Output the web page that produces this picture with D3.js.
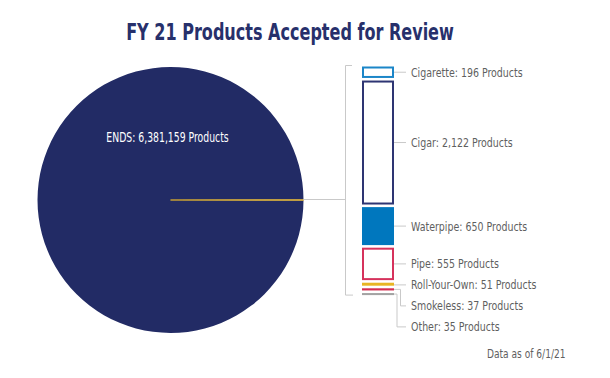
<!DOCTYPE html>
<html>
<head>
<meta charset="utf-8">
<script src="https://cdn.jsdelivr.net/npm/d3@7"></script>
<style>
  html, body { margin: 0; padding: 0; background: #ffffff; }
  svg { display: block; }
  text { font-family: "DejaVu Sans Condensed", "Liberation Sans Narrow", "Arial Narrow", sans-serif; }
</style>
</head>
<body>
<svg id="chart" width="610" height="378"></svg>
<script>
// ---- Data ----
const title = "FY 21 Products Accepted for Review";
const pieCategories = ["ENDS", "All Other Products"];
const pieValues = [6381159, 3646];
const barCategories = ["Cigarette", "Cigar", "Waterpipe", "Pipe", "Roll-Your-Own", "Smokeless", "Other"];
const barValues = [196, 2122, 650, 555, 51, 37, 35];
const footnote = "Data as of 6/1/21";

// ---- Styles ----
const navy = "#222b65";
const pieColors = [navy, "#e2b22c"];
const barStroke = ["#1b86c8", "#2e3573", null, "#d6325c", null, null, null];
const barFill = ["#ffffff", "#ffffff", "#0077be", "#ffffff", "#e8b523", "#d42c50", "#a3a3a3"];
const lineGray = "#c9c9c9";
const textGray = "#5f5f5f";

const svg = d3.select("#chart");
const fmt = d3.format(",");

// condense text horizontally to mimic a condensed typeface
function condense(sel, factor) {
  sel.each(function () {
    const w = this.getComputedTextLength();
    d3.select(this).attr("textLength", w * factor).attr("lengthAdjust", "spacingAndGlyphs");
  });
}

// Title
svg.append("text")
  .attr("x", 290).attr("y", 39.5)
  .attr("text-anchor", "middle")
  .attr("font-size", 23).attr("font-weight", "bold")
  .attr("fill", "#27306b")
  .text(title)
  .call(condense, 0.775);

// ---- Pie ----
const cx = 170.5, cy = 200, r = 133;
const total = d3.sum(pieValues);
const smallAngle = 2 * Math.PI * pieValues[1] / total;
const pie = d3.pie().sort(null)
  .startAngle(Math.PI / 2 + smallAngle / 2)
  .endAngle(Math.PI / 2 + smallAngle / 2 + 2 * Math.PI);
const arc = d3.arc().innerRadius(0).outerRadius(r);
const pieG = svg.append("g").attr("transform", `translate(${cx},${cy})`);
pieG.selectAll("path").data(pie(pieValues)).join("path")
  .attr("d", arc)
  .attr("fill", (d, i) => pieColors[i])
  .attr("stroke", (d, i) => i === 1 ? pieColors[1] : "none")
  .attr("stroke-width", (d, i) => i === 1 ? 0.8 : 0);

pieG.append("text")
  .attr("x", -3).attr("y", -58.3)
  .attr("text-anchor", "middle")
  .attr("font-size", 13.5)
  .attr("fill", "#ffffff")
  .text(`${pieCategories[0]}: ${fmt(pieValues[0])} Products`)
  .call(condense, 0.765);

// ---- Stacked bar ----
const barX = 362, barW = 32, barTop = 66.5, gap = 2.6;
const barTotal = d3.sum(barValues);
const h = d3.scaleLinear().domain([0, barTotal]).range([0, 213]);
const cum = d3.cumsum([0, ...barValues]);
const bars = barValues.map((v, i) => {
  const y0 = barTop + h(cum[i]) + i * gap;
  return { cat: barCategories[i], v, i, y0, y1: y0 + h(v) };
});

// connector lines
const bracketX = 345.5;
const lines = svg.append("g").attr("stroke", lineGray).attr("stroke-width", 1).attr("fill", "none");
lines.append("line").attr("x1", cx + r).attr("x2", bracketX).attr("y1", 199.5).attr("y2", 199.5);
lines.append("path")
  .attr("d", `M${bracketX + 6.5},${bars[0].y0 - 1} H${bracketX} V${bars[bars.length - 1].y1} H${bracketX + 7.5}`);

const barG = svg.append("g");
bars.forEach(b => {
  if (barStroke[b.i]) {
    barG.append("rect")
      .attr("x", barX + 1).attr("y", b.y0 + 1)
      .attr("width", barW - 2).attr("height", Math.max(0, b.y1 - b.y0 - 2))
      .attr("fill", barFill[b.i])
      .attr("stroke", barStroke[b.i]).attr("stroke-width", 2);
  } else {
    barG.append("rect")
      .attr("x", barX).attr("y", b.y0)
      .attr("width", barW).attr("height", b.y1 - b.y0)
      .attr("fill", barFill[b.i]);
  }
});

// labels
const labelX = 411, leaderEnd = 406, spacing = 21;
const elbowX = [null, null, null, null, null, 400.5, 397];
let prev = -Infinity;
bars.forEach(b => {
  const c = (b.y0 + b.y1) / 2;
  b.ly = Math.max(c, prev + spacing);
  b.c = c;
  prev = b.ly;
});
bars.forEach(b => {
  let d;
  if (Math.abs(b.ly - b.c) < 2) {
    d = `M${barX + barW},${b.ly} H${leaderEnd}`;
  } else {
    const ex = elbowX[b.i] || 398;
    d = `M${barX + barW},${b.c} H${ex} V${b.ly} H${leaderEnd}`;
  }
  lines.append("path").attr("d", d);
  svg.append("text")
    .attr("x", labelX).attr("y", b.ly).attr("dy", "0.36em")
    .attr("font-size", 12.5)
    .attr("fill", textGray)
    .text(`${b.cat}: ${fmt(b.v)} Products`)
    .call(condense, 0.84);
});

// footnote
svg.append("text")
  .attr("x", 487).attr("y", 358)
  .attr("font-size", 12)
  .attr("fill", textGray)
  .text(footnote)
  .call(condense, 0.84);
</script>
</body>
</html>
